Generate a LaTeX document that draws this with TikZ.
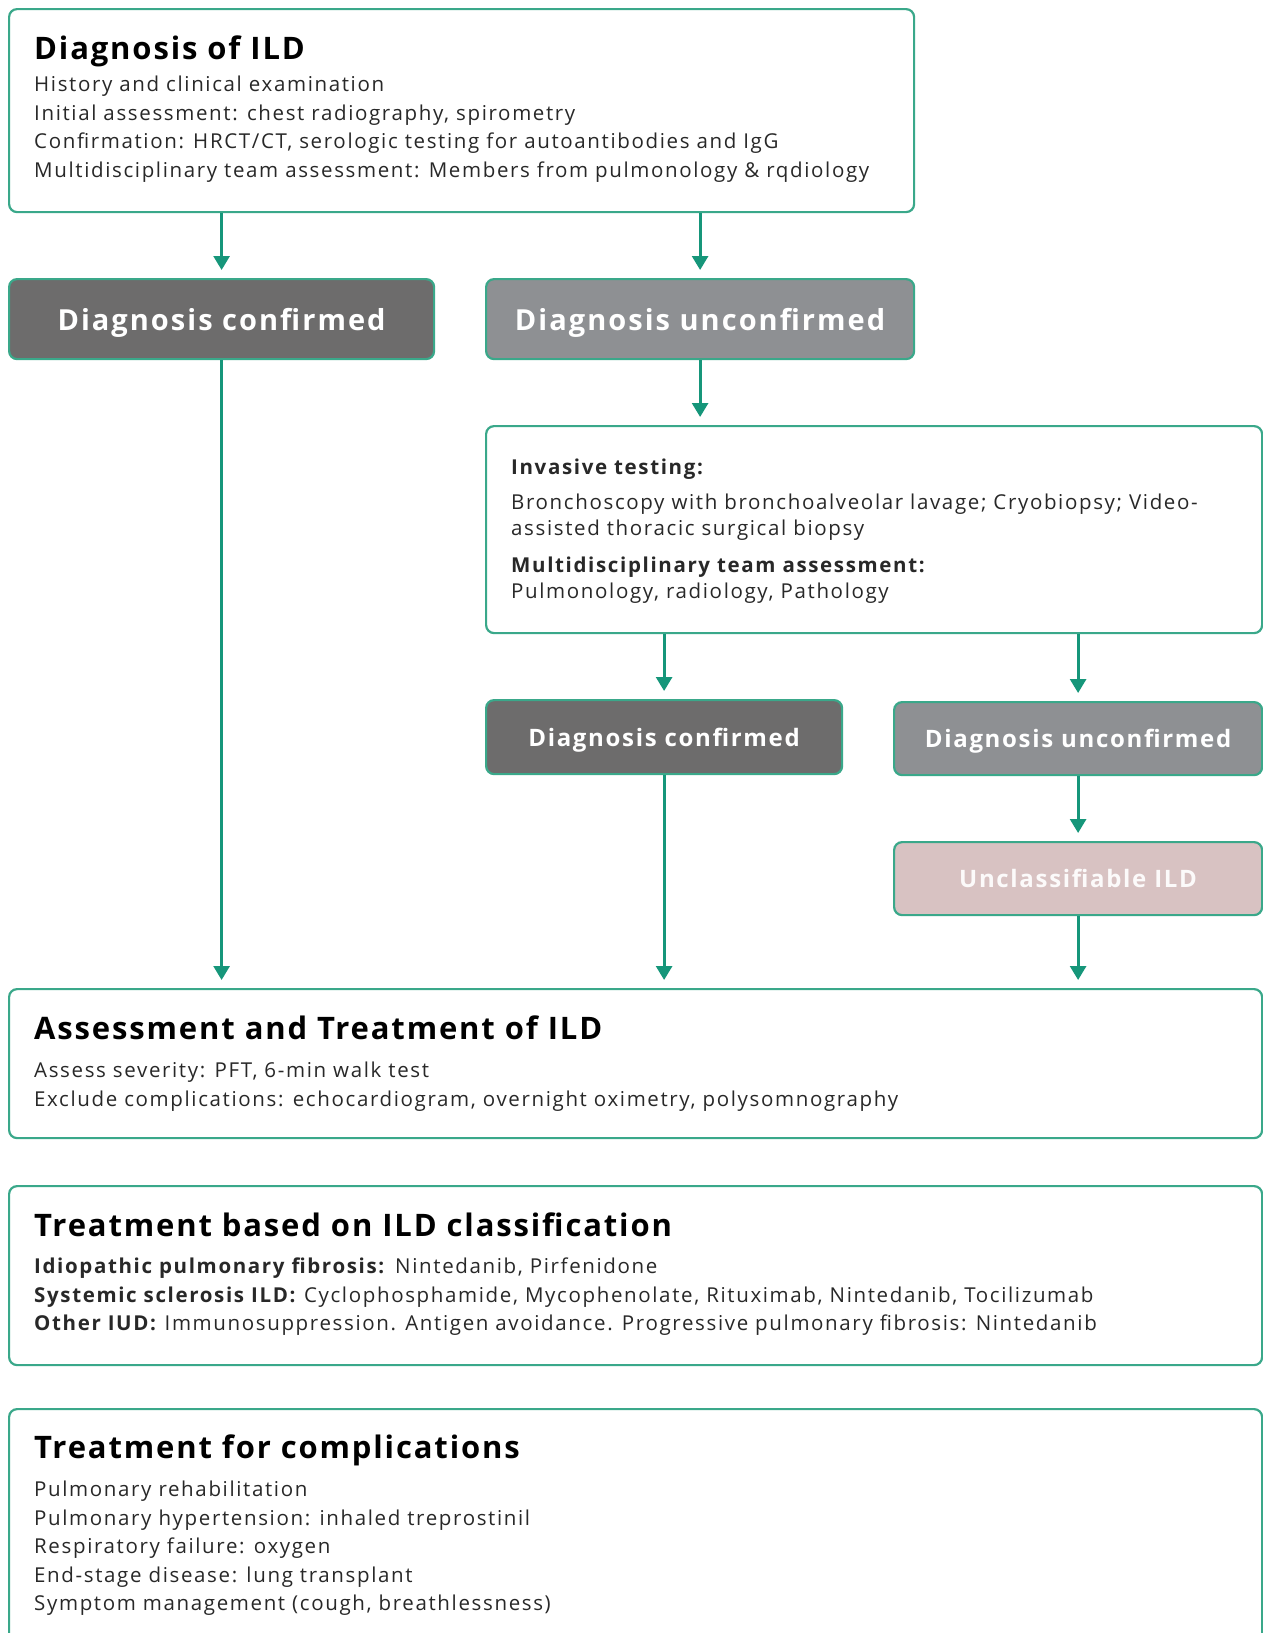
\documentclass[tikz,border=0pt]{standalone}
\usepackage{fontspec}
\setmainfont{Open Sans}[LetterSpace=8]
\newfontfamily\headfont{Open Sans}[LetterSpace=6]
\newfontfamily\statefont{Open Sans}[LetterSpace=7]
\usetikzlibrary{arrows.meta,positioning}
\definecolor{ildgreen}{RGB}{58,168,138}
\definecolor{ildarrow}{RGB}{22,150,122}
\definecolor{darkgrey}{RGB}{109,108,108}
\definecolor{midgrey}{RGB}{142,144,147}
\definecolor{softpink}{RGB}{216,194,194}
\definecolor{inktext}{RGB}{40,40,40}

\begin{document}
\begin{tikzpicture}[x=1pt,y=-1pt,
  panel/.style={draw=ildgreen,line width=2.2pt,rounded corners=8pt,fill=white,anchor=north west,inner sep=0pt},
  state/.style={draw=ildgreen,line width=2.2pt,rounded corners=8pt,anchor=north west,inner sep=0pt,text=white,text depth=0pt},
  bigstate/.style={state,font=\statefont\fontsize{29}{32}\selectfont\bfseries},
  smallstate/.style={state,font=\statefont\fontsize{24}{27}\selectfont\bfseries},
  head/.style={anchor=west,inner sep=0pt,text=black,font=\headfont\fontsize{31}{34}\selectfont\bfseries},
  body/.style={anchor=north west,align=left,inner sep=0pt,text=inktext,font=\fontsize{20.5}{28.5}\selectfont},
  flow/.style={draw=ildarrow,line width=2.8pt,-{Triangle[length=14pt,width=16pt]},shorten >=8pt}]
\clip (0,0) rectangle (1263,1633);

% diagnosis
\node[panel,minimum width=905pt,minimum height=203pt] (diag) at (8,8) {};
\node[head] (diaghead) at (34,51) {Diagnosis of ILD};
\node[body] (diagbody) at (34,76) {History and clinical examination\\
  Initial assessment: chest radiography, spirometry\\
  Confirmation: HRCT/CT, serologic testing for autoantibodies and IgG\\
  Multidisciplinary team assessment: Members from pulmonology \& rqdiology};

\node[bigstate,fill=darkgrey,minimum width=425pt,minimum height=80pt] (conf) at (8,278) {Diagnosis confirmed};
\node[bigstate,fill=midgrey,minimum width=428pt,minimum height=80pt] (unconf) at (485,278) {Diagnosis unconfirmed};

% invasive testing
\node[panel,minimum width=776pt,minimum height=207pt] (inv) at (485,425) {};
\node[body] (invbody) at (511,459) {\textbf{Invasive testing:}\\[6pt]
  Bronchoscopy with bronchoalveolar lavage; Cryobiopsy; Video-\\[-2pt]
  assisted thoracic surgical biopsy\\[8pt]
  \textbf{Multidisciplinary team assessment:}\\[-2pt]
  Pulmonology, radiology, Pathology};

\node[smallstate,fill=darkgrey,minimum width=356pt,minimum height=74pt] (conf2) at (485,699) {Diagnosis confirmed};
\node[smallstate,fill=midgrey,minimum width=368pt,minimum height=73pt] (unconf2) at (893,701) {Diagnosis unconfirmed};
\node[smallstate,fill=softpink,text=white!92!softpink,minimum width=368pt,minimum height=73pt] (unclass) at (893,841) {Unclassifiable ILD};

% assessment and treatment
\node[panel,minimum width=1253pt,minimum height=149pt] (assess) at (8,988) {};
\node[head] (assesshead) at (34,1028) {Assessment and Treatment of ILD};
\node[body] (assessbody) at (34,1062) {Assess severity: PFT, 6-min walk test\\
  Exclude complications: echocardiogram, overnight oximetry, polysomnography};

\node[panel,minimum width=1253pt,minimum height=179pt] (treat) at (8,1185) {};
\node[head] (treathead) at (34,1225) {Treatment based on ILD classification};
\node[body] (treatbody) at (34,1258) {\textbf{Idiopathic pulmonary fibrosis:} Nintedanib, Pirfenidone\\
  \textbf{Systemic sclerosis ILD:} Cyclophosphamide, Mycophenolate, Rituximab, Nintedanib, Tocilizumab\\
  \textbf{Other IUD:} Immunosuppression. Antigen avoidance. Progressive pulmonary fibrosis: Nintedanib};

\node[panel,minimum width=1253pt,minimum height=240pt] (comp) at (8,1408) {};
\node[head] (comphead) at (34,1450) {Treatment for complications};
\node[body] (compbody) at (34,1481) {Pulmonary rehabilitation\\
  Pulmonary hypertension: inhaled treprostinil\\
  Respiratory failure: oxygen\\
  End-stage disease: lung transplant\\
  Symptom management (cough, breathlessness)};

% arrows
\draw[flow] (conf.north |- diag.south) -- (conf.north);
\draw[flow] (unconf.north |- diag.south) -- (unconf.north);
\draw[flow] (unconf.south) -- (inv.north -| unconf.south);
\draw[flow] (conf2.north |- inv.south) -- (conf2.north);
\draw[flow] (unconf2.north |- inv.south) -- (unconf2.north);
\draw[flow] (unconf2.south) -- (unclass.north);
\draw[flow] (conf.south) -- (conf.south |- assess.north);
\draw[flow] (conf2.south) -- (conf2.south |- assess.north);
\draw[flow] (unclass.south) -- (unclass.south |- assess.north);
\end{tikzpicture}
\end{document}
